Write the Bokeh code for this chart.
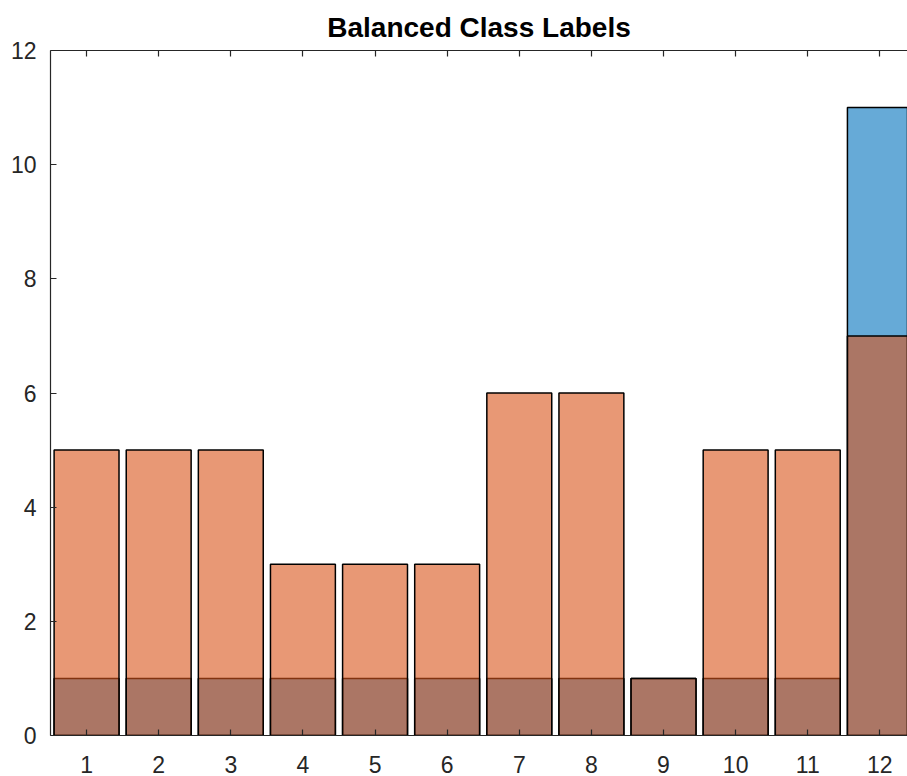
from bokeh.plotting import figure
from bokeh.models import LinearAxis, FixedTicker, Range1d, Title
from bokeh.embed import file_html
from bokeh.resources import INLINE

# Data
classes = [1, 2, 3, 4, 5, 6, 7, 8, 9, 10, 11, 12]
blue_counts = [1, 1, 1, 1, 1, 1, 1, 1, 1, 1, 1, 11]
orange_counts = [5, 5, 5, 3, 3, 3, 6, 6, 1, 5, 5, 7]
x_ticks = [1, 2, 3, 4, 5, 6, 7, 8, 9, 10, 11, 12]
y_ticks = [0, 2, 4, 6, 8, 10, 12]
title_text = "Balanced Class Labels"

FONT = "Liberation Sans"
AX_COLOR = "#262626"
TICK_SIZE = "23px"

W, H = 907, 776
LEFT, TOP, BOTTOM = 50, 50, 41
PX_PER_UNIT = 72.12

p = figure(width=W, height=H, output_backend="svg", toolbar_location=None,
           x_range=Range1d(0.5, 0.5 + (W - LEFT) / PX_PER_UNIT), y_range=Range1d(0, 12),
           x_axis_location=None, y_axis_location=None)
p.min_border_left = LEFT
p.min_border_right = 0
p.min_border_top = TOP
p.min_border_bottom = BOTTOM
p.outline_line_color = None
p.xgrid.visible = False
p.ygrid.visible = False
p.background_fill_color = "white"
p.border_fill_color = "white"

p.vbar(x=classes, top=blue_counts, width=0.9, bottom=0,
       fill_color="#0072BD", fill_alpha=0.6, line_color="black", line_width=1.5)
p.vbar(x=classes, top=orange_counts, width=0.9, bottom=0,
       fill_color="#D95319", fill_alpha=0.6, line_color="black", line_width=1.5)


def style_axis(ax, show_labels=True, standoff=10):
    ax.axis_line_color = AX_COLOR
    ax.axis_line_width = 1.2
    ax.major_tick_line_color = AX_COLOR
    ax.major_tick_line_width = 1.2
    ax.major_tick_in = 6
    ax.major_tick_out = 0
    ax.minor_tick_line_color = None
    ax.major_label_standoff = standoff
    if show_labels:
        ax.major_label_text_font = FONT
        ax.major_label_text_font_size = TICK_SIZE
        ax.major_label_text_color = AX_COLOR
    else:
        ax.major_label_text_font_size = "0px"
        ax.major_label_text_color = None


left = LinearAxis(ticker=FixedTicker(ticks=y_ticks))
style_axis(left, standoff=14)
p.add_layout(left, "left")

bottom = LinearAxis(ticker=FixedTicker(ticks=x_ticks))
style_axis(bottom, standoff=20)
bottom.major_label_text_line_height = 0.8
p.add_layout(bottom, "below")

top = LinearAxis(ticker=FixedTicker(ticks=x_ticks))
style_axis(top, show_labels=False, standoff=0)
p.add_layout(top, "above")

t = Title(text=title_text, align="center", offset=0, standoff=16,
          text_font=FONT, text_font_size="28px", text_font_style="bold",
          text_color="black")
p.add_layout(t, "above")

open("out.html", "w").write(file_html(p, INLINE))
